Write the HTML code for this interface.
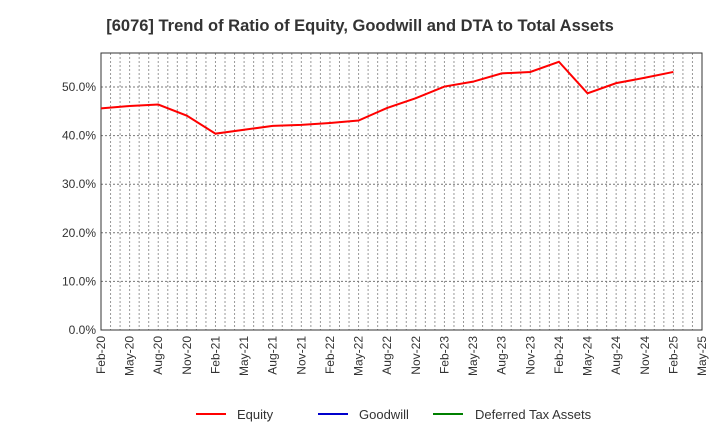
<!DOCTYPE html>
<html><head><meta charset="utf-8"><style>
body{margin:0;background:#fff;font-family:"Liberation Sans",sans-serif;}
</style></head><body>
<svg id="c" width="720" height="440" xmlns="http://www.w3.org/2000/svg">
<text x="360" y="31" text-anchor="middle" font-size="16.5" font-weight="bold" fill="#333">[6076]  Trend of Ratio of Equity, Goodwill and DTA to Total Assets</text>
<g id="grid"></g><g id="axes"></g><g id="series"></g>
<g>
<line x1="196" y1="414" x2="226" y2="414" stroke="#ff0000" stroke-width="2"/><text x="237" y="419" font-size="13" fill="#333">Equity</text>
<line x1="318" y1="414" x2="348" y2="414" stroke="#0000cc" stroke-width="2"/><text x="359" y="419" font-size="13" fill="#333">Goodwill</text>
<line x1="433" y1="414" x2="463" y2="414" stroke="#008000" stroke-width="2"/><text x="475" y="419" font-size="13" fill="#333">Deferred Tax Assets</text>
</g>
</svg>
<script>
const categories=["Feb-20","May-20","Aug-20","Nov-20","Feb-21","May-21","Aug-21","Nov-21","Feb-22","May-22","Aug-22","Nov-22","Feb-23","May-23","Aug-23","Nov-23","Feb-24","May-24","Aug-24","Nov-24","Feb-25","May-25"];
const equity=[45.6,46.1,46.4,44.1,40.4,41.2,42.0,42.2,42.6,43.1,45.7,47.7,50.1,51.1,52.8,53.1,55.2,48.7,50.8,51.9,53.1];
const yTicks=[0,10,20,30,40,50];
const L=101,R=702,T=53,B=330,YMAX=57;
const ns="http://www.w3.org/2000/svg";
const x=i=>L+(R-L)*i/(categories.length-1);
const y=v=>B-(B-T)*v/YMAX;
function mk(p,t,a){const e=document.createElementNS(ns,t);for(const k in a)e.setAttribute(k,a[k]);p.appendChild(e);return e;}
const grid=document.getElementById('grid'),axes=document.getElementById('axes'),series=document.getElementById('series');
for(let m=1;m<(categories.length-1)*3;m++){const xx=L+(R-L)*m/((categories.length-1)*3);
const g=mk(grid,'line',{x1:xx,x2:xx,y1:T,y2:B,stroke:'#999','stroke-dasharray':'2,2','stroke-width':1});

}
yTicks.forEach(v=>{const yy=y(v);
if(v>0){const g=mk(grid,'line',{x1:L,x2:R,y1:yy,y2:yy,stroke:'#777','stroke-dasharray':'2,2'});

}
const t=mk(axes,'text',{x:L-5,y:yy+4,'text-anchor':'end','font-size':12,fill:'#333'});t.textContent=v.toFixed(1)+'%';

});
const fr=mk(axes,'rect',{x:L,y:T,width:R-L,height:B-T,fill:'none',stroke:'#333','stroke-width':1});


categories.forEach((c,i)=>{const xx=x(i);
const t=mk(axes,'text',{transform:`translate(${xx+4},${B+6}) rotate(-90)`,'text-anchor':'end','font-size':12,fill:'#333'});t.textContent=c;

});
const pl=mk(series,'polyline',{points:equity.map((v,i)=>x(i)+','+y(v)).join(' '),fill:'none',stroke:'#ff0000','stroke-width':2});


</script>
</body></html>
